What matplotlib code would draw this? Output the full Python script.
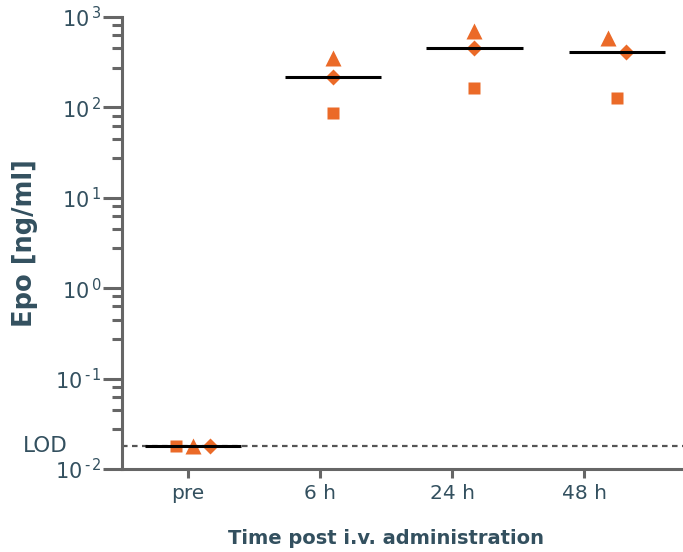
import numpy as np
import matplotlib
matplotlib.use("Agg")
import matplotlib.pyplot as plt
from matplotlib.ticker import FixedLocator, NullFormatter

# ---- data ----
categories = ["pre", "6 h", "24 h", "48 h"]
lod = 0.018
square_vals = [0.018, 87, 165, 128]
triangle_vals = [0.018, 352, 700, 590]
diamond_vals = [0.018, 217, 458, 413]
ytick_labels = ["$10^{\\,\u2010\\,2}$", "$10^{\\,\u2010\\,1}$", r"$10^{\,0}$", r"$10^{\,1}$", r"$10^{\,2}$", r"$10^{\,3}$"]

# ---- layout / style ----
group_x = [0.04, 1.10, 2.17, 3.25]
sq_dx = [-0.13, 0.0, 0.0, 0.0]
tri_dx = [0.0, 0.0, 0.0, -0.07]
dia_dx = [0.13, 0.0, 0.0, 0.07]
orange = "#EB6A28"
txt = "#33505F"
spine_c = "#666666"

plt.rcParams["font.family"] = ["DejaVu Sans"]
plt.rcParams["mathtext.default"] = "regular"

fig = plt.figure(figsize=(6.83, 5.52), dpi=100)
ax = fig.add_axes([122/683, 83/552, 561/683, 452/552])

ax.set_yscale("log")
ax.set_ylim(1e-2, 1e3)
ax.set_xlim(-0.5, 3.75)

# LOD line
ax.axhline(lod, color="#555555", lw=1.6, ls=(0, (2.5, 2)), zorder=1)

gx = np.array(group_x)
ax.plot(gx + np.array(sq_dx), square_vals, "s", color=orange, ms=9, mec="none", zorder=3)
ax.plot(gx + np.array(tri_dx), triangle_vals, "^", color=orange, ms=11, mec="none", zorder=3)
ax.plot(gx + np.array(dia_dx), diamond_vals, "D", color=orange, ms=8.5, mec="none", zorder=3)

medians = np.median(np.vstack([square_vals, triangle_vals, diamond_vals]), axis=0)
for x, m in zip(group_x, medians):
    ax.plot([x - 0.365, x + 0.365], [m, m], color="black", lw=2.2, zorder=4, solid_capstyle="butt")

# spines
for s in ["top", "right"]:
    ax.spines[s].set_visible(False)
for s in ["left", "bottom"]:
    ax.spines[s].set_color(spine_c)
    ax.spines[s].set_linewidth(2.2)

ax.set_xticks(range(len(categories)))
ax.set_xticklabels(categories, fontsize=14.5, color=txt)
ax.tick_params(axis="x", length=6.5, width=2.2, color=spine_c, pad=4)

majors = [1e-2, 1e-1, 1e0, 1e1, 1e2, 1e3]
ax.yaxis.set_major_locator(FixedLocator(majors))
ax.set_yticklabels(ytick_labels, fontsize=15, color=txt)
minor_fracs = [2.75, 4.5, 6.3, 8.1]
minors = [f * 10.0**e for e in range(-2, 3) for f in minor_fracs]
ax.yaxis.set_minor_locator(FixedLocator(minors))
ax.yaxis.set_minor_formatter(NullFormatter())
ax.tick_params(axis="y", which="major", length=14, width=2.2, color=spine_c, pad=1)
ax.tick_params(axis="y", which="minor", length=7, width=2.2, color=spine_c)

ax.text((68 - 122) / 561, lod, "LOD", transform=ax.get_yaxis_transform(), ha="right", va="center",
        fontsize=15.5, color=txt)

ax.set_ylabel("Epo [ng/ml]", fontsize=18.5, fontweight="bold", color=txt)
ax.yaxis.set_label_coords((38 - 122) / 561, 0.5)
ax.set_xlabel("Time post i.v. administration", fontsize=14, fontweight="bold", color=txt)
ax.xaxis.set_label_coords((386 - 122) / 561, -(529 - 469) / 452)

fig.savefig("out.png", dpi=100)
